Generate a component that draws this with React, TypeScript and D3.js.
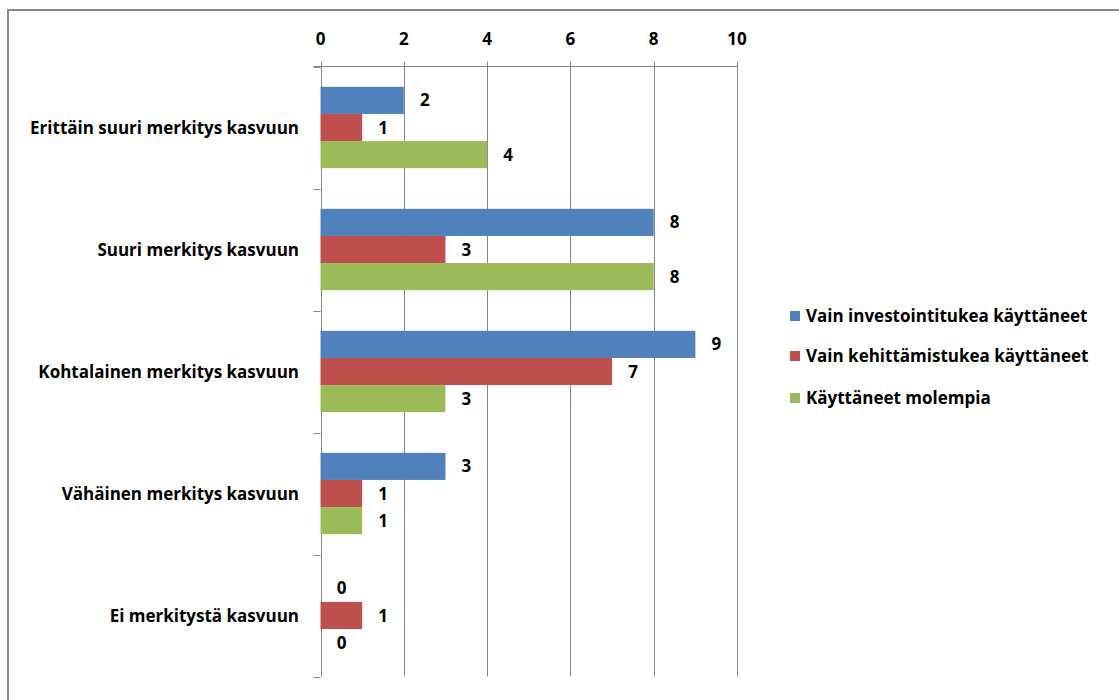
import { useEffect, useRef } from "react";
import * as d3 from "d3";

const categories = [
  "Erittäin suuri merkitys kasvuun",
  "Suuri merkitys kasvuun",
  "Kohtalainen merkitys kasvuun",
  "Vähäinen merkitys kasvuun",
  "Ei merkitystä kasvuun",
];
const seriesNames = [
  "Vain investointitukea käyttäneet",
  "Vain kehittämistukea käyttäneet",
  "Käyttäneet molempia",
];
const investointi = [2, 8, 9, 3, 0];
const kehittamis = [1, 3, 7, 1, 1];
const molemmat = [4, 8, 3, 1, 0];
const colors = ["#4F81BD", "#C0504D", "#9BBB59"];
const xTicks = [0, 2, 4, 6, 8, 10];

const W = 1119;
const H = 700;
const FONT = "'Open Sans', 'Noto Sans', sans-serif";

export default function App() {
  const svgRef = useRef<SVGSVGElement>(null);

  useEffect(() => {
    const svg = d3.select(svgRef.current);
    if (!svg.node()) return;
    svg.selectAll("*").remove();

    const left = 320.5;
    const right = 737;
    const top = 66.5;
    const bottom = 676.5;
    const seriesValues = [investointi, kehittamis, molemmat];

    const x = d3.scaleLinear().domain([0, 10]).range([left, right]);
    const y = d3.scaleBand().domain(categories).range([top, bottom]);
    // gap width 150% -> bar = band / 4.5
    const inner = d3
      .scaleBand()
      .domain(seriesNames)
      .range([0, y.bandwidth()])
      .paddingOuter(0.75);

    // outer border
    svg
      .append("rect")
      .attr("x", 8)
      .attr("y", 10)
      .attr("width", W)
      .attr("height", H)
      .attr("fill", "none")
      .attr("stroke", "#8a8a8a")
      .attr("stroke-width", 2);

    // vertical gridlines
    svg
      .append("g")
      .selectAll("line")
      .data(xTicks)
      .join("line")
      .attr("x1", (d) => Math.round(x(d)) + 0.5)
      .attr("x2", (d) => Math.round(x(d)) + 0.5)
      .attr("y1", top - 5)
      .attr("y2", bottom)
      .attr("stroke", "#868686")
      .attr("stroke-width", 1);

    // top axis line
    svg
      .append("line")
      .attr("x1", left - 7)
      .attr("x2", right)
      .attr("y1", top)
      .attr("y2", top)
      .attr("stroke", "#868686");

    // left axis tick marks
    const catEdges = [...categories.map((c) => y(c)!), bottom];
    svg
      .append("g")
      .selectAll("line")
      .data(catEdges)
      .join("line")
      .attr("x1", left - 7)
      .attr("x2", left)
      .attr("y1", (d) => Math.round(d) + 0.5)
      .attr("y2", (d) => Math.round(d) + 0.5)
      .attr("stroke", "#868686");

    const txt = (sel: any) =>
      sel
        .attr("font-family", FONT)
        .attr("font-weight", "bold")
        .attr("font-size", 17)
        .attr("fill", "#000");

    // tick labels
    svg
      .append("g")
      .selectAll("text")
      .data(xTicks)
      .join("text")
      .attr("x", (d) => x(d))
      .attr("y", 45)
      .attr("text-anchor", "middle")
      .call(txt)
      .text((d) => d);

    // category labels
    svg
      .append("g")
      .selectAll("text")
      .data(categories)
      .join("text")
      .attr("x", 299)
      .attr("y", (d) => y(d)! + y.bandwidth() / 2 + 6)
      .attr("text-anchor", "end")
      .call(txt)
      .text((d) => d);

    // bars + value labels
    seriesNames.forEach((s, si) => {
      const vals = seriesValues[si];
      const g = svg.append("g");
      g.selectAll("rect")
        .data(categories)
        .join("rect")
        .attr("x", x(0))
        .attr("y", (c) => y(c)! + inner(s)!)
        .attr("width", (c, i) => x(vals[i]) - x(0))
        .attr("height", inner.bandwidth())
        .attr("fill", colors[si]);
      g.selectAll("text")
        .data(categories)
        .join("text")
        .attr("x", (c, i) => x(vals[i]) + 21)
        .attr("y", (c) => y(c)! + inner(s)! + inner.bandwidth() / 2 + 6)
        .attr("text-anchor", "middle")
        .call(txt)
        .text((c, i) => vals[i]);
    });

    // legend
    const legendY = [316, 356, 398];
    const lg = svg.append("g");
    seriesNames.forEach((s, i) => {
      lg.append("rect")
        .attr("x", 790)
        .attr("y", legendY[i] - 5)
        .attr("width", 10)
        .attr("height", 10)
        .attr("fill", colors[i]);
      lg.append("text")
        .attr("x", 806)
        .attr("y", legendY[i] + 6)
        .call(txt)
        .text(s);
    });
  }, []);

  return (
    <svg
      ref={svgRef}
      width={W}
      height={H}
      style={{ position: "fixed", left: 0, top: 0, background: "#fff" }}
    />
  );
}
